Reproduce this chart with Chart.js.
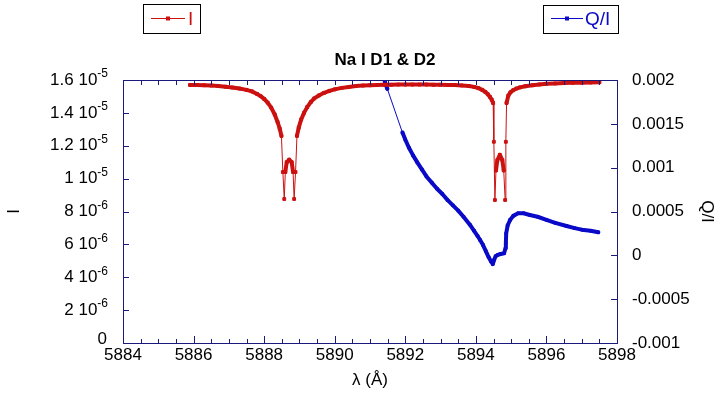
<!DOCTYPE html>
<html>
<head>
<meta charset="utf-8">
<script src="https://cdn.jsdelivr.net/npm/chart.js@4/dist/chart.umd.min.js"></script>
<style>
  html, body { margin: 0; padding: 0; background: #fff; }
</style>
</head>
<body>
<canvas id="c" width="721" height="395"></canvas>
<script>
// Profil intensitas I (satuan 1e-6) terhadap panjang gelombang (Å)
const wavelengthI = [
  5885.90, 5886.10, 5886.30, 5886.50, 5886.70, 5886.90, 5887.10, 5887.30, 5887.50, 5887.65,
  5887.80, 5887.90, 5888.00, 5888.10, 5888.20, 5888.30, 5888.38, 5888.44, 5888.49, 5888.53,
  5888.57, 5888.60, 5888.64, 5888.71, 5888.78, 5888.82, 5888.85, 5888.89, 5888.93, 5888.98,
  5889.05, 5889.13, 5889.22, 5889.32, 5889.42, 5889.55, 5889.70, 5889.85, 5890.00, 5890.20,
  5890.40, 5890.60, 5890.80, 5891.00, 5891.20, 5891.40, 5891.60, 5891.80, 5892.00, 5892.20,
  5892.40, 5892.60, 5892.80, 5893.00, 5893.20, 5893.40, 5893.60, 5893.80, 5893.95, 5894.08,
  5894.18, 5894.27, 5894.34, 5894.40, 5894.45, 5894.49, 5894.51, 5894.54, 5894.57, 5894.61,
  5894.68, 5894.75, 5894.79, 5894.83, 5894.85, 5894.87, 5894.92, 5894.98, 5895.06, 5895.15,
  5895.25, 5895.40, 5895.60, 5895.80, 5896.00, 5896.25, 5896.50, 5896.75, 5897.00, 5897.25,
  5897.50
];
const intensityI = [
  15.70, 15.69, 15.68, 15.66, 15.63, 15.59, 15.54, 15.48, 15.40, 15.31,
  15.15, 15.02, 14.85, 14.62, 14.32, 13.90, 13.45, 13.05, 12.60, 10.40,
  8.76, 10.40, 11.00, 11.15, 11.00, 10.40, 8.76, 10.40, 12.60, 13.10,
  13.60, 14.00, 14.35, 14.65, 14.88, 15.06, 15.22, 15.34, 15.43, 15.52,
  15.58, 15.63, 15.66, 15.68, 15.70, 15.71, 15.71, 15.72, 15.72, 15.72,
  15.72, 15.72, 15.71, 15.71, 15.70, 15.69, 15.67, 15.64, 15.58, 15.50,
  15.40, 15.27, 15.13, 14.97, 14.80, 14.60, 12.24, 8.70, 10.50, 11.13,
  11.45, 11.13, 10.50, 8.70, 12.24, 14.60, 15.05, 15.25, 15.38, 15.48,
  15.55, 15.62, 15.68, 15.73, 15.77, 15.79, 15.81, 15.83, 15.84, 15.85,
  15.86
];

// Polarisasi Q/I
const wavelengthQ = [
  5891.42, 5891.49, 5891.92, 5892.00, 5892.10, 5892.22, 5892.34, 5892.47, 5892.60, 5892.75,
  5892.90, 5893.05, 5893.20, 5893.35, 5893.50, 5893.65, 5893.83, 5893.95, 5894.05, 5894.12,
  5894.20, 5894.28, 5894.36, 5894.43, 5894.48, 5894.52, 5894.56, 5894.62, 5894.70, 5894.80,
  5894.84, 5894.85, 5894.86, 5894.90, 5894.97, 5895.06, 5895.20, 5895.35, 5895.53, 5895.75,
  5896.00, 5896.25, 5896.57, 5896.80, 5897.00, 5897.25, 5897.47
];
const ratioQ = [
  0.00198, 0.00190, 0.00140, 0.00132, 0.00123, 0.00114, 0.00106, 0.00098, 0.00090, 0.00083,
  0.00076, 0.00070, 0.00063, 0.00057, 0.00051, 0.00044, 0.00035, 0.00028, 0.00022, 0.000175,
  0.00012, 0.00005, -0.00002, -0.00007, -0.00010, -0.00005, -0.00001, 0.000005, 0.000015, 0.000023,
  0.00008, 0.000137, 0.00025, 0.00034, 0.000403, 0.00045, 0.00048, 0.00048, 0.00046, 0.00044,
  0.000405, 0.00037, 0.000335, 0.00031, 0.000293, 0.00028, 0.000263
];

// Tick sumbu
const xTicks = [5884, 5886, 5888, 5890, 5892, 5894, 5896, 5898];
const leftTicks = [0, 2e-6, 4e-6, 6e-6, 8e-6, 1e-5, 1.2e-5, 1.4e-5, 1.6e-5];
const rightTicks = [-0.001, -0.0005, 0, 0.0005, 0.001, 0.0015, 0.002];

const RED = '#cc1111';
const BLUE = '#0a0ac8';
const AXIS = '#1a1a7a';
const FONT = '"Liberation Sans", Arial, Helvetica, sans-serif';

// Segmen rapat digambar tebal (titik-titik padat), segmen jarang tipis.
const segWidth = (ctx) => {
  const d = Math.hypot(ctx.p1.x - ctx.p0.x, ctx.p1.y - ctx.p0.y);
  return d < 14 ? 4 : 1;
};

const dataI = wavelengthI.map((x, i) => ({ x, y: intensityI[i] * 1e-6 }));
const dataQ = wavelengthQ.map((x, i) => ({ x, y: ratioQ[i] }));

// Plugin: bingkai, tick ke dalam, label eksponen, judul, legenda kotak.
const framePlugin = {
  id: 'frame',
  afterDraw(chart) {
    const { ctx, chartArea: a, scales } = chart;
    const xs = scales.x, yl = scales.y, yr = scales.y1;
    ctx.save();
    ctx.strokeStyle = AXIS;
    ctx.lineWidth = 1;
    ctx.strokeRect(a.left + 0.5, a.top + 0.5, a.right - a.left, a.bottom - a.top);

    ctx.beginPath();
    for (let k = 0; k <= 28; k++) {
      const v = 5884 + k * 0.5;
      const px = Math.round(xs.getPixelForValue(v)) + 0.5;
      const len = (k % 4 === 0) ? 7 : 4;
      ctx.moveTo(px, a.bottom);
      ctx.lineTo(px, a.bottom - len);
      ctx.moveTo(px, a.top);
      ctx.lineTo(px, a.top + 5);
    }
    leftTicks.forEach(v => {
      const py = Math.round(yl.getPixelForValue(v)) + 0.5;
      ctx.moveTo(a.left, py);
      ctx.lineTo(a.left + 6, py);
    });
    rightTicks.forEach(v => {
      const py = Math.round(yr.getPixelForValue(v)) + 0.5;
      ctx.moveTo(a.right, py);
      ctx.lineTo(a.right - 6, py);
    });
    ctx.stroke();

    // Label sumbu kiri dengan pangkat sepuluh
    ctx.fillStyle = '#000';
    ctx.textAlign = 'right';
    ctx.textBaseline = 'middle';
    const xr = a.left - 15;
    leftTicks.forEach(v => {
      const py = yl.getPixelForValue(v);
      if (v === 0) {
        ctx.font = '17px ' + FONT;
        ctx.fillText('0', xr - 1, py - 4);
        return;
      }
      const e = Math.floor(Math.log10(v) + 1e-9);
      const m = parseFloat((v / Math.pow(10, e)).toFixed(1));
      ctx.font = '12px ' + FONT;
      const expStr = String(e);
      ctx.fillText(expStr, xr, py - 6);
      const ew = ctx.measureText(expStr).width;
      ctx.font = '17px ' + FONT;
      ctx.fillText(m + ' 10', xr - ew, py);
    });

    // Judul
    ctx.textAlign = 'center';
    ctx.font = 'bold 17px ' + FONT;
    ctx.fillText('Na I D1 & D2', 385, 60);

    // Legenda
    const drawLegend = (bx, by, bw, bh, x0, x1, color, label, tx) => {
      ctx.strokeStyle = '#000';
      ctx.lineWidth = 1;
      ctx.strokeRect(bx + 0.5, by + 0.5, bw, bh);
      const ly = 18.5;
      ctx.strokeStyle = color;
      ctx.beginPath();
      ctx.moveTo(x0, ly);
      ctx.lineTo(x1, ly);
      ctx.stroke();
      ctx.fillStyle = color;
      const mx = (x0 + x1) / 2;
      ctx.fillRect(mx - 2, ly - 2, 4, 4);
      ctx.font = '19px ' + FONT;
      ctx.textAlign = 'left';
      ctx.textBaseline = 'middle';
      ctx.fillText(label, tx, ly + 1);
    };
    drawLegend(143, 4, 57, 29, 151, 185, RED, 'I', 188);
    drawLegend(543, 5, 75, 28, 551, 583, BLUE, 'Q/I', 585);
    ctx.restore();
  }
};

new Chart(document.getElementById('c').getContext('2d'), {
  type: 'line',
  data: {
    datasets: [
      {
        label: 'I',
        data: dataI,
        yAxisID: 'y',
        borderColor: RED,
        backgroundColor: RED,
        borderWidth: 1,
        borderCapStyle: 'round',
        borderJoinStyle: 'round',
        pointStyle: 'rect',
        pointRadius: 2,
        pointBorderWidth: 1,
        pointBackgroundColor: RED,
        pointBorderColor: RED,
        tension: 0,
        segment: { borderWidth: segWidth }
      },
      {
        label: 'Q/I',
        data: dataQ,
        yAxisID: 'y1',
        borderColor: BLUE,
        backgroundColor: BLUE,
        borderWidth: 1,
        borderCapStyle: 'round',
        borderJoinStyle: 'round',
        pointStyle: 'rect',
        pointRadius: 1.8,
        pointBorderWidth: 1,
        pointBackgroundColor: BLUE,
        pointBorderColor: BLUE,
        tension: 0,
        segment: { borderWidth: segWidth }
      }
    ]
  },
  options: {
    responsive: false,
    animation: false,
    devicePixelRatio: 1,
    layout: { padding: { top: 80, left: 0, right: 0, bottom: 0 } },
    plugins: {
      legend: { display: false },
      title: { display: false },
      tooltip: { enabled: false }
    },
    scales: {
      x: {
        type: 'linear',
        min: 5884,
        max: 5898,
        afterBuildTicks: (s) => { s.ticks = xTicks.map(v => ({ value: v })); },
        ticks: {
          font: { family: FONT, size: 17 },
          color: '#000',
          padding: 2,
          maxRotation: 0,
          autoSkip: false,
          callback: (v) => String(v)
        },
        grid: { display: false, drawTicks: false },
        border: { display: false },
        title: { display: true, text: 'λ (Å)', font: { family: FONT, size: 17 }, color: '#000' },
        afterFit: (s) => { s.height = 52; }
      },
      y: {
        position: 'left',
        min: 0,
        max: 1.6e-5,
        afterBuildTicks: (s) => { s.ticks = leftTicks.map(v => ({ value: v })); },
        ticks: { display: false },
        grid: { display: false, drawTicks: false },
        border: { display: false },
        title: { display: true, text: 'I', font: { family: FONT, size: 17 }, color: '#000' },
        afterFit: (s) => { s.width = 123; }
      },
      y1: {
        position: 'right',
        min: -0.001,
        max: 0.002,
        afterBuildTicks: (s) => { s.ticks = rightTicks.map(v => ({ value: v })); },
        ticks: {
          font: { family: FONT, size: 17 },
          color: '#000',
          padding: 15,
          callback: (v) => String(parseFloat(Number(v).toFixed(4)))
        },
        grid: { display: false, drawTicks: false },
        border: { display: false },
        title: { display: true, text: 'Q/I', font: { family: FONT, size: 17 }, color: '#000' },
        afterFit: (s) => { s.width = 104; }
      }
    }
  },
  plugins: [framePlugin]
});
</script>
</body>
</html>
